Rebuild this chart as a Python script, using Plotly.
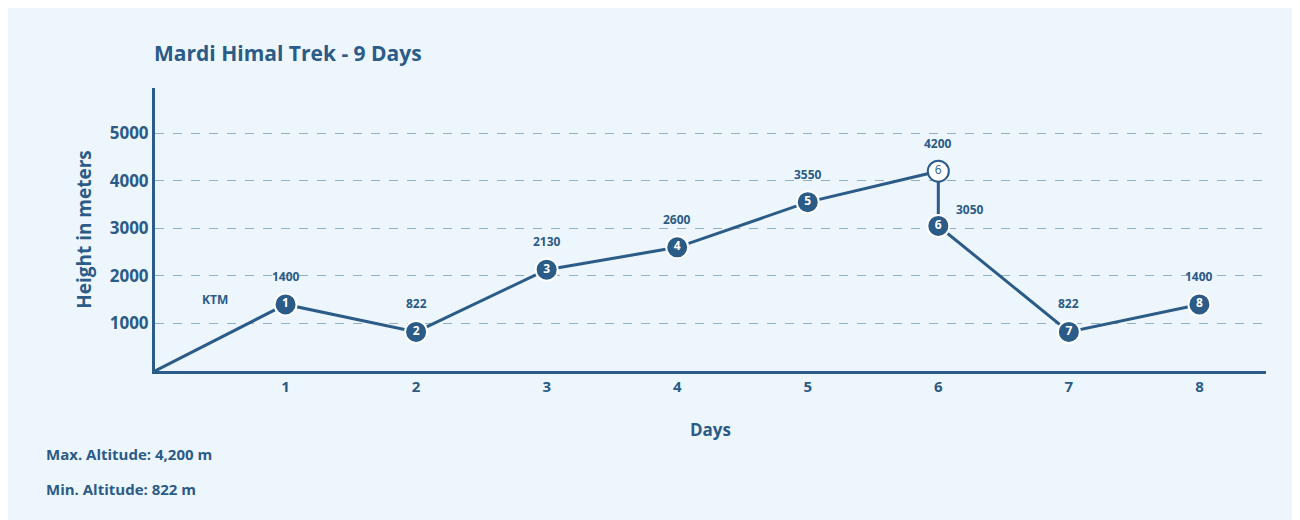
import plotly.graph_objects as go

days = [0, 1, 2, 3, 4, 5, 6, 6, 7, 8]
heights = [0, 1400, 822, 2130, 2600, 3550, 4200, 3050, 822, 1400]
marker_labels = ["", "1", "2", "3", "4", "5", "6", "6", "7", "8"]
height_labels = ["", "1400", "822", "2130", "2600", "3550", "4200", "3050", "822", "1400"]
y_ticks = [1000, 2000, 3000, 4000, 5000]
x_ticks = [1, 2, 3, 4, 5, 6, 7, 8]

blue = "#2b5b87"
bg = "#eef6fd"
font = "Open Sans"

fig = go.Figure()
fig.add_trace(go.Scatter(x=days, y=heights, mode="lines", line=dict(color=blue, width=3),
                         hoverinfo="skip"))

# filled markers (all except the summit point)
idx = [i for i in range(1, len(days)) if i != 6]
fig.add_trace(go.Scatter(
    x=[days[i] for i in idx], y=[heights[i] for i in idx], mode="markers+text",
    text=[marker_labels[i] for i in idx], textposition="middle center",
    textfont=dict(color="white", size=12, family=font, weight="bold"),
    marker=dict(size=22, color=blue, line=dict(color="white", width=2))))
# summit marker, open circle
fig.add_trace(go.Scatter(
    x=[days[6]], y=[heights[6]], mode="markers+text", text=[marker_labels[6]],
    textposition="middle center", textfont=dict(color=blue, size=12, family=font),
    marker=dict(size=21, color="white", line=dict(color=blue, width=2))))

for i in range(1, len(days)):
    if i == 7:
        fig.add_annotation(x=days[i], y=heights[i], text=height_labels[i], showarrow=False,
                           xshift=32, yshift=16, font=dict(size=12, color=blue, family=font, weight="bold"))
    else:
        fig.add_annotation(x=days[i], y=heights[i], text=height_labels[i], showarrow=False,
                           yshift=28, font=dict(size=12, color=blue, family=font, weight="bold"))

fig.add_annotation(x=0.46, y=1500, text="KTM", showarrow=False,
                   font=dict(size=12, color=blue, family=font, weight="bold"))

fig.add_annotation(xref="paper", yref="paper", x=-0.003, y=1.124, xanchor="left", yanchor="middle",
                   text="Mardi Himal Trek - 9 Days", showarrow=False,
                   font=dict(size=21, color=blue, family=font, weight="bold"))
fig.add_annotation(xref="paper", yref="paper", x=-0.1, y=-0.293, xanchor="left", yanchor="middle",
                   text="Max. Altitude: 4,200 m", showarrow=False,
                   font=dict(size=15, color=blue, family=font, weight="bold"))
fig.add_annotation(xref="paper", yref="paper", x=-0.1, y=-0.417, xanchor="left", yanchor="middle",
                   text="Min. Altitude: 822 m", showarrow=False,
                   font=dict(size=15, color=blue, family=font, weight="bold"))

fig.update_layout(
    width=1300, height=520, showlegend=False,
    paper_bgcolor=bg, plot_bgcolor=bg,
    margin=dict(l=147, r=42, t=80, b=157),
    font=dict(family=font, color=blue),
    xaxis=dict(range=[0, 8.51], tickvals=x_ticks, showgrid=False, zeroline=False,
               showline=True, linecolor=blue, linewidth=3, ticks="",
               tickfont=dict(size=15, color=blue, family=font, weight="bold"),
               title=dict(text="Days", standoff=30,
                          font=dict(size=17, color=blue, family=font, weight="bold"))),
    yaxis=dict(range=[0, 5950], tickvals=y_ticks, showgrid=True, gridcolor="#8fb0c8",
               griddash="dash", gridwidth=1, zeroline=False,
               showline=True, linecolor=blue, linewidth=3, ticks="",
               tickfont=dict(size=17, color=blue, family=font, weight="bold"),
               title=dict(text="Height in meters", standoff=14,
                          font=dict(size=19, color=blue, family=font, weight="bold"))),
)

fig.write_html("out.html")
